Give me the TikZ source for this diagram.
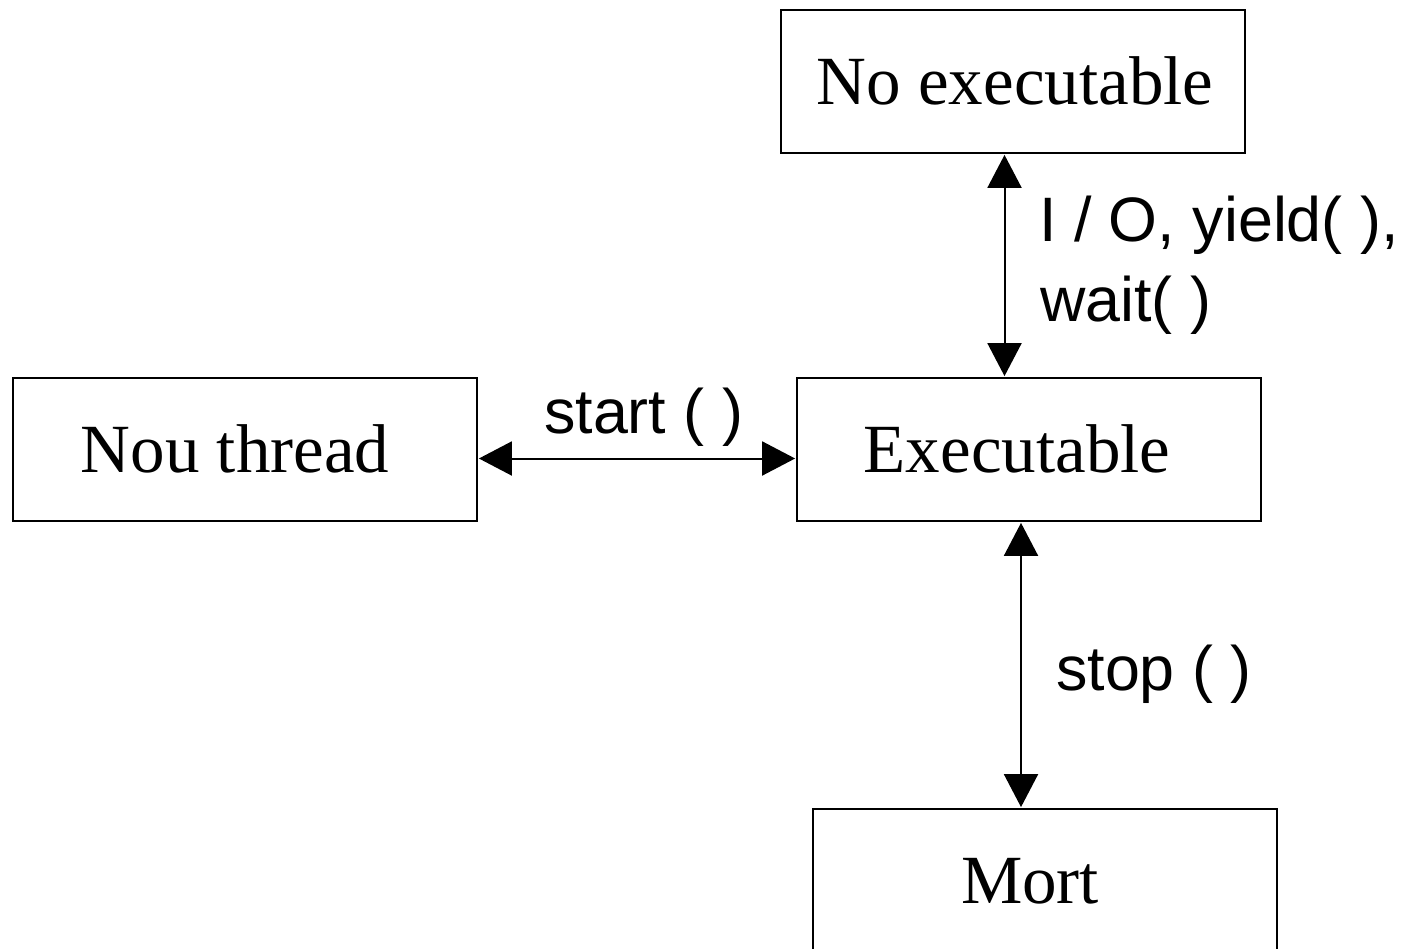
\documentclass[tikz,border=0pt]{standalone}
\usepackage{fontspec}
\setmainfont{Liberation Serif}
\newfontfamily\lsans{Liberation Sans}
\usetikzlibrary{arrows.meta}
\begin{document}
\begin{tikzpicture}[x=1pt,y=-1pt,
  statebox/.style={draw, line width=1.8pt, rectangle, inner sep=0pt,
    minimum width=464pt, minimum height=143pt,
    font=\fontsize{69}{80}\selectfont, text height=45.7pt, text depth=0pt},
  lbl/.style={inner sep=0pt, anchor=base west, font=\lsans\fontsize{62.8}{80}\selectfont},
  arr/.style={line width=2pt, {Triangle[length=33pt,width=34pt]}-{Triangle[length=33pt,width=34pt]}, shorten <=1pt, shorten >=1pt}]
\useasboundingbox (0,0) rectangle (1412,949);
\node[statebox] (ne) at (1013,81.5) {\hspace*{4pt}No executable};
\node[statebox] (nt) at (245,449.5) {Nou thread\hspace*{20pt}};
\node[statebox] (ex) at (1029,449.5) {Executable\hspace*{24pt}};
\node[statebox] (mo) at (1045,880.5) {Mort\hspace*{30pt}};
\coordinate (v1) at (1004.5,0);
\coordinate (v2) at (1021,0);
\coordinate (h1) at (0,458.5);
\draw[arr] (v1 |- ne.south) -- (v1 |- ex.north);
\draw[arr] (nt.east |- h1) -- (ex.west |- h1);
\draw[arr] (v2 |- ex.south) -- (v2 |- mo.north);
\node[lbl] (l1) at (1039,241.7) {I / O, yield( ),};
\node[lbl] (l2) at (1040,321.7) {wait( )};
\node[lbl] (l3) at (544,433) {start ( )};
\node[lbl] (l4) at (1056,690) {stop ( )};
\end{tikzpicture}
\end{document}
